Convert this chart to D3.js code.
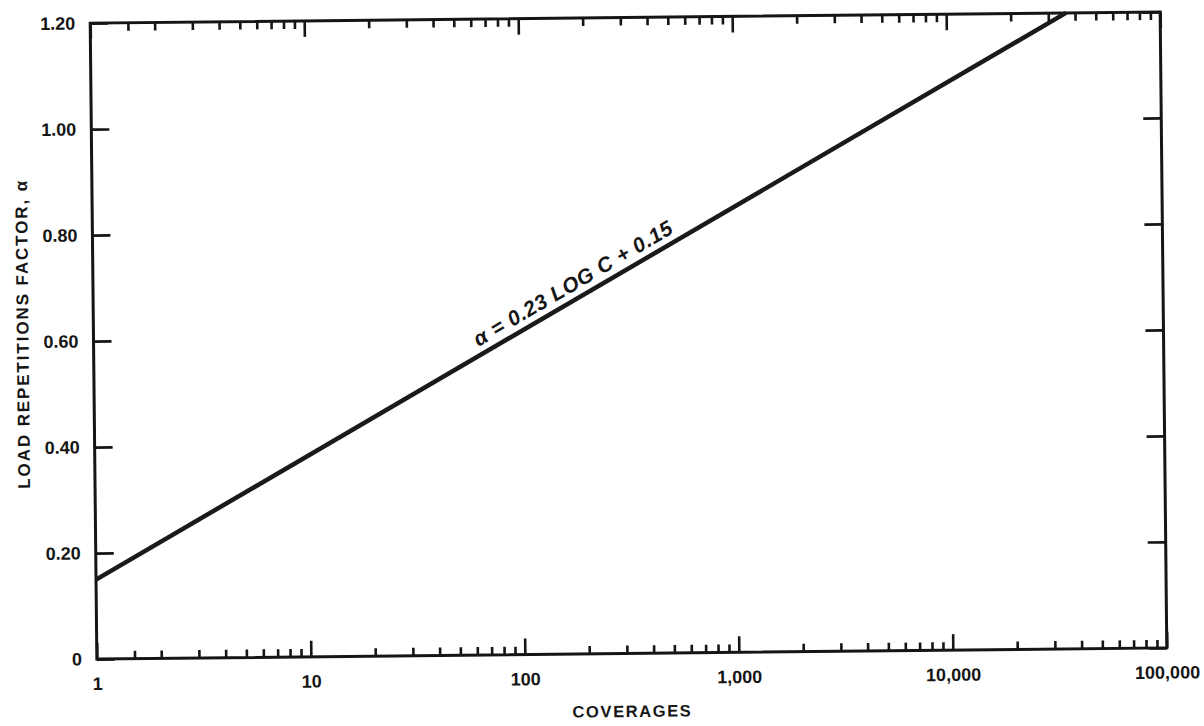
<!DOCTYPE html>
<html>
<head>
<meta charset="utf-8">
<script src="https://cdn.jsdelivr.net/npm/d3@7"></script>
<style>
  body { margin: 0; background: #fff; }
  text { font-family: "Liberation Sans", Arial, Helvetica, sans-serif; font-weight: bold; fill: #151515; }
</style>
</head>
<body>
<svg id="vis-svg" width="1204" height="726"></svg>
<script>
var width  = 1204;
var height = 726;
var margin = { top: 17.5, bottom: 72.5, left: 93.5, right: 40.5 };
const graphWidth = width - margin.left - margin.right;
const graphHeight = height - margin.top - margin.bottom;

// data
const xDomain = [1, 100000];
const yDomain = [0, 1.2];
const xLabelTicks = [1, 10, 100, 1000, 10000, 100000];
const xLabels = ["1", "10", "100", "1,000", "10,000", "100,000"];
const xExtraMinor = [1.5];
const yTicks = [0, 0.2, 0.4, 0.6, 0.8, 1.0, 1.2];
const yLabels = ["0", "0.20", "0.40", "0.60", "0.80", "1.00", "1.20"];
const lineCoverages = [1, 36300];
const lineAlpha = [0.15, 1.20];
const equationText = "\u03b1 = 0.23 LOG C + 0.15";

const svg = d3.select("#vis-svg");
svg.append("rect").attr("width", width).attr("height", height).attr("fill", "#fff");

// scanned page is a little tilted
const cx = margin.left + graphWidth / 2, cy = margin.top + graphHeight / 2;
const graph = svg.append("g").attr("transform", `rotate(-0.6, ${cx}, ${cy})`);

const x = d3.scaleLog().domain(xDomain).range([margin.left, margin.left + graphWidth]);
const y = d3.scaleLinear().domain(yDomain).range([margin.top + graphHeight, margin.top]);

const isDecade = d => Math.abs(Math.log10(d) - Math.round(Math.log10(d))) < 1e-9;
const minorTicks = xExtraMinor.concat(x.ticks().filter(d => !isDecade(d)));

const styleAxis = g => {
  g.select(".domain").remove();
  g.selectAll(".tick line").attr("stroke", "#151515").attr("stroke-width", 2.6);
};

// bottom
graph.append("g").attr("transform", `translate(0,${y(0)})`)
  .call(d3.axisBottom(x).tickValues(minorTicks).tickSize(-8).tickFormat(""))
  .call(styleAxis);
graph.append("g").attr("transform", `translate(0,${y(0)})`)
  .call(d3.axisBottom(x).tickValues(xLabelTicks).tickSize(-16).tickPadding(18)
        .tickFormat((d, i) => xLabels[i]))
  .call(styleAxis)
  .selectAll("text").attr("font-size", 18);

// top
graph.append("g").attr("transform", `translate(0,${y(1.2)})`)
  .call(d3.axisTop(x).tickValues(minorTicks).tickSize(-8).tickFormat(""))
  .call(styleAxis);
graph.append("g").attr("transform", `translate(0,${y(1.2)})`)
  .call(d3.axisTop(x).tickValues(xLabelTicks).tickSize(-16).tickFormat(""))
  .call(styleAxis);

// left
graph.append("g").attr("transform", `translate(${x(1)},0)`)
  .call(d3.axisLeft(y).tickValues(yTicks).tickSize(-18).tickPadding(15)
        .tickFormat((d, i) => yLabels[i]))
  .call(styleAxis)
  .selectAll("text").attr("font-size", 18);

// right
graph.append("g").attr("transform", `translate(${x(100000)},0)`)
  .call(d3.axisRight(y).tickValues(yTicks).tickSize(-18).tickFormat(""))
  .call(styleAxis);

// frame
graph.append("rect")
  .attr("x", x(1)).attr("y", y(1.2))
  .attr("width", x(100000) - x(1)).attr("height", y(0) - y(1.2))
  .attr("fill", "none").attr("stroke", "#151515").attr("stroke-width", 3);

// the design line
const lineData = lineCoverages.map((c, i) => [c, lineAlpha[i]]);
graph.append("path")
  .datum(lineData)
  .attr("fill", "none")
  .attr("stroke", "#1a1a1a")
  .attr("stroke-width", 4.5)
  .attr("d", d3.line().x(d => x(d[0])).y(d => y(d[1])));

// equation along the line
const p0 = [x(lineData[0][0]), y(lineData[0][1])];
const p1 = [x(lineData[1][0]), y(lineData[1][1])];
const angle = Math.atan2(p1[1] - p0[1], p1[0] - p0[0]) * 180 / Math.PI;
const t = (x(190) - p0[0]) / (p1[0] - p0[0]);
const lx = p0[0] + t * (p1[0] - p0[0]), ly = p0[1] + t * (p1[1] - p0[1]);
graph.append("text")
  .attr("transform", `translate(${lx},${ly}) rotate(${angle})`)
  .attr("y", -8)
  .attr("text-anchor", "middle")
  .attr("font-size", 21)
  .attr("font-style", "italic")
  .attr("letter-spacing", 0.6)
  .text(equationText);

// axis titles
graph.append("text")
  .attr("x", cx).attr("y", y(0) + 63.5)
  .attr("text-anchor", "middle")
  .attr("font-size", 16.5)
  .attr("letter-spacing", 1.6)
  .text("COVERAGES");

graph.append("text")
  .attr("transform", `translate(${margin.left - 65},${cy - 8}) rotate(-90)`)
  .attr("text-anchor", "middle")
  .attr("font-size", 17)
  .attr("letter-spacing", 1.9)
  .text("LOAD REPETITIONS FACTOR, \u03b1");
</script>
</body>
</html>
